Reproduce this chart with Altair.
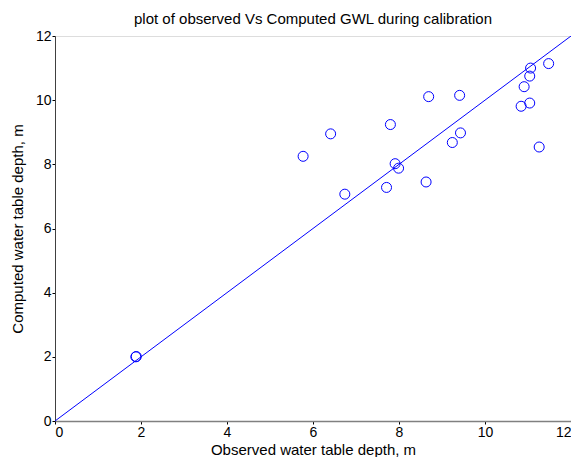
import altair as alt
import pandas as pd

observed = [1.88, 1.89, 5.77, 6.41, 6.74, 7.80, 7.71, 7.91, 7.99, 8.69, 8.63,
            9.24, 9.41, 9.43, 10.84, 10.91, 11.04, 11.04, 11.06, 11.48, 11.26]
computed = [2.00, 2.01, 8.25, 8.95, 7.07, 9.24, 7.28, 8.02, 7.88, 10.11, 7.45,
            8.68, 10.15, 8.98, 9.81, 10.42, 9.91, 10.75, 11.00, 11.14, 8.54]
line_x = [0, 12]
line_y = [0, 12]
ticks = [0, 2, 4, 6, 8, 10, 12]

pts = pd.DataFrame({"obs": observed, "comp": computed})
ln = pd.DataFrame({"obs": line_x, "comp": line_y})

xs = alt.Scale(domain=[0, 12], nice=False, zero=False)
ys = alt.Scale(domain=[0, 12], nice=False, zero=False)

font = "Liberation Sans"
xax = alt.Axis(values=ticks, grid=False, tickSize=3, domainColor="#808080",
               domainWidth=1.5, tickColor="#000000", labelColor="#000000",
               labelFontSize=14, labelFont=font, labelPadding=1,
               titleFont=font, titleFontSize=15, titleFontWeight="normal",
               titleColor="#000000", titlePadding=3, format="d")
yax = alt.Axis(values=ticks, grid=False, tickSize=3, domainColor="#404040",
               domainWidth=1, tickColor="#000000", labelColor="#000000",
               labelFontSize=14, labelFont=font, labelPadding=1,
               titleFont=font, titleFontSize=15, titleFontWeight="normal",
               titleColor="#000000", titlePadding=10, format="d")

line = alt.Chart(ln).mark_line(color="#0000FF", strokeWidth=1, clip=True).encode(
    x=alt.X("obs:Q", scale=xs, axis=xax, title="Observed water table depth, m"),
    y=alt.Y("comp:Q", scale=ys, axis=yax, title="Computed water table depth, m"),
)

points = alt.Chart(pts).mark_point(shape="circle", filled=False, color="#0000FF",
                                   strokeWidth=1, size=100, opacity=1).encode(
    x=alt.X("obs:Q", scale=xs),
    y=alt.Y("comp:Q", scale=ys),
)

chart = alt.layer(line, points).properties(
    width=516,
    height=385,
    title=alt.TitleParams("plot of observed Vs Computed GWL during calibration",
                          font=font, fontSize=15, fontWeight="normal",
                          color="#000000", anchor="middle", offset=2),
    autosize=alt.AutoSizeParams(type="none"),
    padding={"left": 47, "top": 28, "right": 0, "bottom": 36},
).configure_view(stroke=None).configure(background="#FFFFFF")

chart.save("out.html", embed_options={"renderer": "svg", "actions": False})
